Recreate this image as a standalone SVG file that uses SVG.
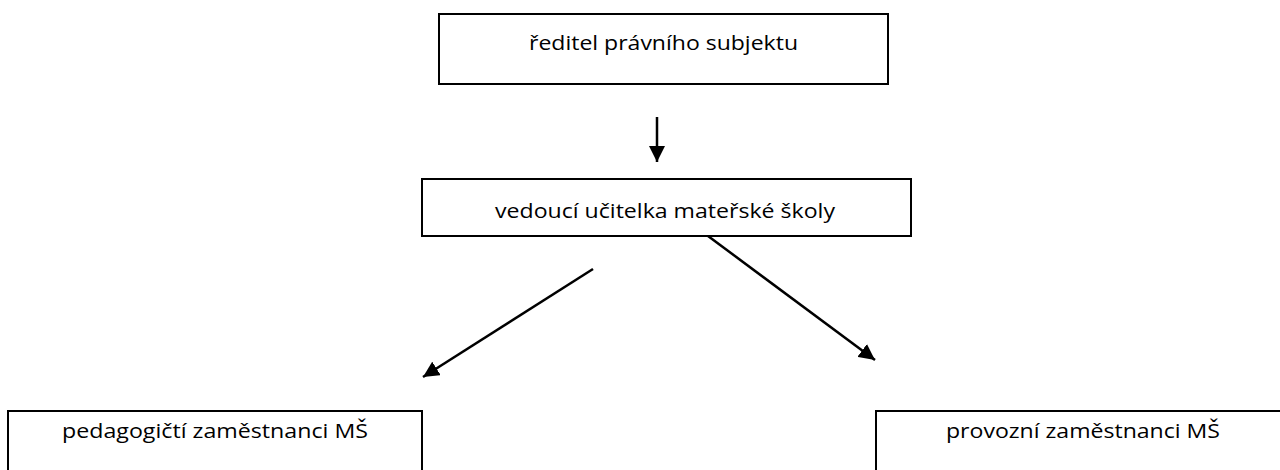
<svg xmlns="http://www.w3.org/2000/svg" width="1280" height="470" viewBox="0 0 1280 470">
<style>
.box{fill:#fff;stroke:#000;stroke-width:2}
.lbl{font-family:"Open Sans","Liberation Sans",sans-serif;font-size:20px;fill:#000;text-anchor:middle}
.con{stroke:#000;stroke-width:2.5;fill:none}
</style>
<defs>
<marker id="ah" markerUnits="userSpaceOnUse" markerWidth="16" markerHeight="16" viewBox="0 0 16 16" refX="16" refY="8" orient="auto">
<path d="M0,0 L16,8 L0,16 Z" fill="#000"/>
</marker>
</defs>
<rect width="1280" height="470" fill="#fff"/>
<g id="n-reditel">
<rect class="box" x="439" y="14" width="449" height="70"/>
<text class="lbl" x="663.5" y="50" textLength="269" lengthAdjust="spacingAndGlyphs">ředitel právního subjektu</text>
</g>
<g id="n-vedouci">
<rect class="box" x="422" y="179" width="489" height="57"/>
<text class="lbl" x="665" y="218" textLength="340" lengthAdjust="spacingAndGlyphs">vedoucí učitelka mateřské školy</text>
</g>
<g id="n-pedagogicti">
<rect class="box" x="8" y="411" width="414" height="70"/>
<text class="lbl" x="215" y="438" textLength="306" lengthAdjust="spacingAndGlyphs">pedagogičtí zaměstnanci MŠ</text>
</g>
<g id="n-provozni">
<rect class="box" x="876" y="411" width="414" height="70"/>
<text class="lbl" x="1083" y="438" textLength="274" lengthAdjust="spacingAndGlyphs">provozní zaměstnanci MŠ</text>
</g>
<g id="connectors">
<line class="con" x1="657" y1="117" x2="657" y2="162" marker-end="url(#ah)"/>
<line class="con" x1="593" y1="269" x2="423" y2="377" marker-end="url(#ah)"/>
<line class="con" x1="708" y1="236" x2="875" y2="360" marker-end="url(#ah)"/>
</g>
</svg>
